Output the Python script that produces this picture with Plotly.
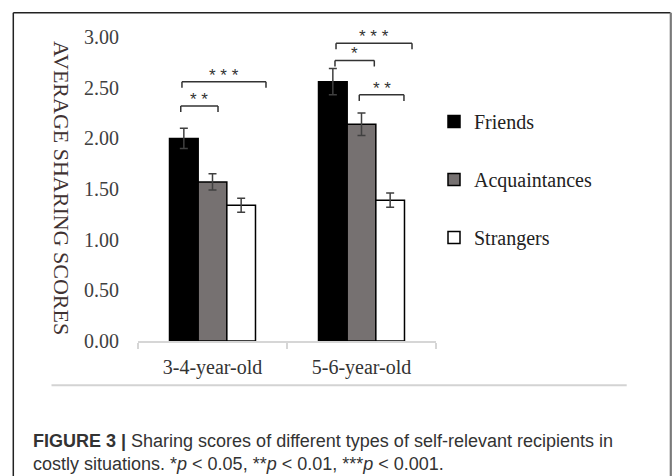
import plotly.graph_objects as go

# ---- data -------------------------------------------------------------
age_groups = ["3-4-year-old", "5-6-year-old"]
recipients = ["Friends", "Acquaintances", "Strangers"]
friends = [2.00, 2.56]
acquaintances = [1.57, 2.14]
strangers = [1.34, 1.39]
friends_se = [0.10, 0.13]
acquaintances_se = [0.08, 0.11]
strangers_se = [0.07, 0.07]
y_ticks = [0.0, 0.5, 1.0, 1.5, 2.0, 2.5, 3.0]

# significance brackets: (x start, x end, bracket height, label)
# x is the category index on the x axis, y is in score units
brackets = [
    (-0.213, 0.037, 2.32, "* *"),
    (-0.205, 0.359, 2.56, "* * *"),
    (0.822, 1.086, 2.77, "*"),
    (0.985, 1.285, 2.43, "* *"),
    (0.829, 1.339, 2.94, "* * *"),
]

# ---- page geometry ----------------------------------------------------
W, H = 672, 476
ML, MR, MT, MB = 138, 236, 27, 135.3
PW, PH = W - ML - MR, H - MT - MB


def fx(px):
    """page pixel x -> paper x"""
    return (px - ML) / PW


def fy(py):
    """page pixel y -> paper y"""
    return (H - MB - py) / PH


SERIF = "Liberation Serif, Times New Roman, serif"
SANS = "Liberation Sans, Arial, sans-serif"

fills = ["#000000", "#767171", "#ffffff"]
series = [friends, acquaintances, strangers]
errors = [friends_se, acquaintances_se, strangers_se]

fig = go.Figure()
for name, vals, err, col in zip(recipients, series, errors, fills):
    fig.add_trace(go.Bar(
        name=name,
        x=age_groups,
        y=vals,
        legendgroup=name,
        marker=dict(color=col, line=dict(color="#000000", width=1.5)),
        error_y=dict(type="data", array=err, visible=True,
                     color="#404040", thickness=1.5, width=4),
    ))

shapes = []
annotations = []
leg = 0.06
for x0, x1, top, label in brackets:
    for a, b, c, d in [(x0, top - leg, x0, top), (x0, top, x1, top), (x1, top, x1, top - leg)]:
        shapes.append(dict(type="line", xref="x", yref="y", x0=a, y0=b, x1=c, y1=d,
                           line=dict(color="#333333", width=1.5)))
    annotations.append(dict(x=(x0 + x1) / 2, y=top, xref="x", yref="y",
                            text=label, showarrow=False, yanchor="bottom", yshift=-5,
                            font=dict(family=SANS, size=17, color="#333333")))

# outer frame and caption separator
shapes += [
    dict(type="line", xref="paper", yref="paper", x0=fx(13.3), y0=fy(12.7), x1=fx(670.5), y1=fy(12.7),
         line=dict(color="#222222", width=1.5)),
    dict(type="line", xref="paper", yref="paper", x0=fx(13.3), y0=fy(12.7), x1=fx(13.3), y1=fy(480),
         line=dict(color="#222222", width=1.5)),
    dict(type="line", xref="paper", yref="paper", x0=fx(670.8), y0=fy(12.7), x1=fx(670.8), y1=fy(480),
         line=dict(color="#7a7a7a", width=2.2)),
    dict(type="line", xref="paper", yref="paper", x0=fx(51.5), y0=fy(385), x1=fx(626.7), y1=fy(385),
         line=dict(color="#d3d3d3", width=2)),
]

# vertical axis title reading top to bottom
annotations.append(dict(
    x=fx(61.7), y=fy(187.5), xref="paper", yref="paper", text="AVERAGE SHARING SCORES",
    textangle=90, showarrow=False, xanchor="center", yanchor="middle",
    font=dict(family=SERIF, size=22, color="#3f3232"),
))

# caption
annotations.append(dict(
    x=fx(30.5), y=fy(441), xref="paper", yref="paper", xanchor="left", yanchor="middle",
    text="<b>FIGURE 3 |</b> Sharing scores of different types of self-relevant recipients in",
    showarrow=False, font=dict(family=SANS, size=18, color="#333333"),
))
annotations.append(dict(
    x=fx(30.5), y=fy(463.5), xref="paper", yref="paper", xanchor="left", yanchor="middle",
    text="costly situations. *<i>p</i> &lt; 0.05, **<i>p</i> &lt; 0.01, ***<i>p</i> &lt; 0.001.",
    showarrow=False, font=dict(family=SANS, size=18, color="#333333"),
))

fig.update_layout(
    width=W, height=H,
    margin=dict(l=ML, r=MR, t=MT, b=MB, pad=0),
    paper_bgcolor="#ffffff", plot_bgcolor="#ffffff",
    barmode="group", bargap=0.423, bargroupgap=0,
    shapes=shapes, annotations=annotations,
    showlegend=True,
    legend=dict(x=fx(434), y=fy(102), xanchor="left", yanchor="top",
                font=dict(family=SERIF, size=20, color="#222222"),
                tracegroupgap=29, bgcolor="rgba(0,0,0,0)",
                itemclick=False, itemdoubleclick=False),
    xaxis=dict(type="category", showline=True, linecolor="#d6d6d6", linewidth=1.5,
               ticks="outside", tickson="boundaries", ticklen=6, tickcolor="#d6d6d6",
               tickwidth=1.5, showgrid=False, zeroline=False, ticklabelstandoff=7,
               tickfont=dict(family=SERIF, size=20, color="#333333")),
    yaxis=dict(range=[0, 3.1], tickvals=y_ticks, tickformat=".2f", showline=False,
               showgrid=False, zeroline=False, ticks="", ticklabelstandoff=18,
               tickfont=dict(family=SERIF, size=20, color="#404040")),
)

fig.write_html("out.html")
